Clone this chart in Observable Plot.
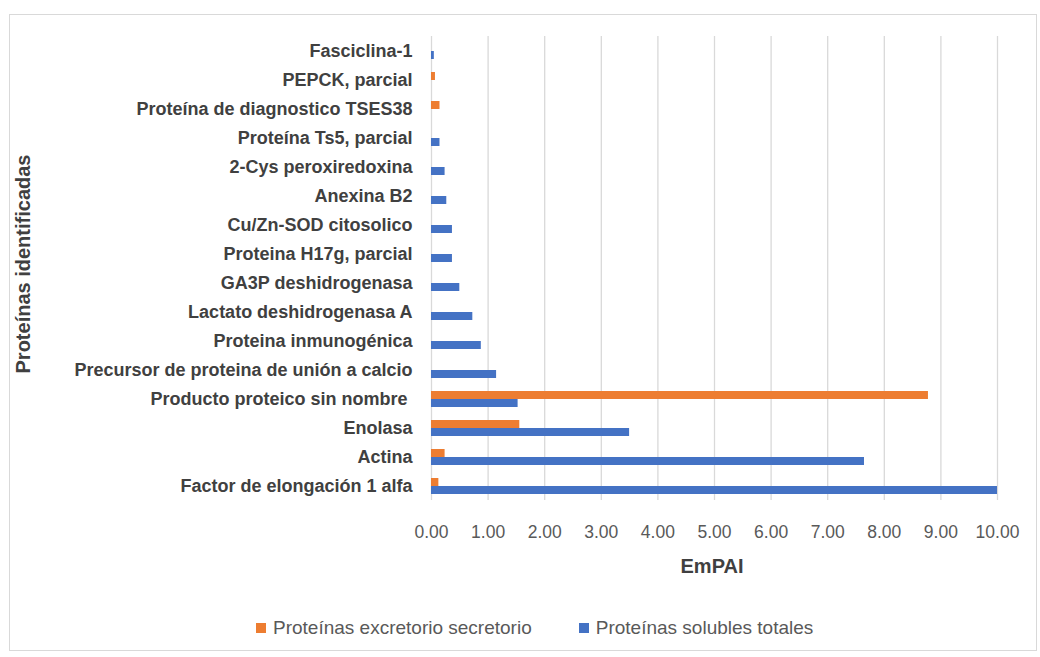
<!DOCTYPE html>
<html>
<head>
<meta charset="utf-8">
<script src="https://cdn.jsdelivr.net/npm/d3@7"></script>
<script src="https://cdn.jsdelivr.net/npm/@observablehq/plot@0.6"></script>
<style>
  body { margin: 0; background: #fff; font-family: "Liberation Sans", Arial, sans-serif; }
  #frame { position: absolute; left: 9px; top: 14px; width: 1028px; height: 637px; border: 1px solid #d9d9d9; box-sizing: border-box; }
  #chart { position: absolute; left: 0; top: 0; }
  #chart text { white-space: pre; }
  #ytitle { position: absolute; left: 23px; top: 264px; transform: translate(-50%, -50%) rotate(-90deg); font-weight: bold; font-size: 20px; color: #404040; white-space: nowrap; }
  #xtitle { position: absolute; left: 712px; top: 566px; transform: translate(-50%, -50%); font-weight: bold; font-size: 20px; color: #404040; }
  #legend { position: absolute; top: 628px; left: 256px; transform: translateY(-50%); font-size: 19px; color: #595959; display: flex; align-items: center; white-space: nowrap; }
  .sw { display: inline-block; width: 10px; height: 10px; margin-right: 7px; }
</style>
</head>
<body>
<div id="frame"></div>
<div id="chart"></div>
<div id="ytitle">Proteínas identificadas</div>
<div id="xtitle">EmPAI</div>
<div id="legend"></div>
<script>
const proteins = [
  "Fasciclina-1",
  "PEPCK, parcial",
  "Proteína de diagnostico TSES38",
  "Proteína Ts5, parcial",
  "2-Cys peroxiredoxina",
  "Anexina B2",
  "Cu/Zn-SOD citosolico",
  "Proteina H17g, parcial",
  "GA3P deshidrogenasa",
  "Lactato deshidrogenasa A",
  "Proteina inmunogénica",
  "Precursor de proteina de unión a calcio",
  "Producto proteico sin nombre ",
  "Enolasa",
  "Actina",
  "Factor de elongación 1 alfa"
];
const seriesNames = ["Proteínas excretorio secretorio", "Proteínas solubles totales"];
const seriesColors = ["#ED7D31", "#4472C4"];
const excretorio = [null, 0.07, 0.15, null, null, null, null, null, null, null, null, null, 8.78, 1.56, 0.24, 0.13];
const solubles = [0.05, null, null, 0.15, 0.24, 0.27, 0.37, 0.37, 0.50, 0.73, 0.88, 1.15, 1.53, 3.50, 7.65, 10.00];
const xTicks = [0, 1, 2, 3, 4, 5, 6, 7, 8, 9, 10];

const data = [];
proteins.forEach((p, i) => {
  if (excretorio[i] != null) data.push({protein: p, series: seriesNames[0], value: excretorio[i]});
  if (solubles[i] != null) data.push({protein: p, series: seriesNames[1], value: solubles[i]});
});

const chart = Plot.plot({
  width: 1040,
  height: 590,
  marginLeft: 431,
  marginRight: 43,
  marginTop: 32,
  marginBottom: 86,
  style: {fontFamily: '"Liberation Sans", Arial, sans-serif', background: "transparent"},
  x: {domain: [0, 10], axis: null},
  fy: {domain: proteins, padding: 0, axis: null},
  y: {domain: seriesNames, paddingInner: 0, paddingOuter: 0.65, axis: null},
  color: {domain: seriesNames, range: seriesColors},
  marks: [
    Plot.gridX(xTicks, {stroke: "#d9d9d9", strokeOpacity: 1, strokeWidth: 1.3}),
    Plot.barX(data, {fy: "protein", y: "series", x: "value", fill: "series"}),
    Plot.axisX(xTicks, {tickFormat: d3.format(".2f"), tickSize: 0, tickPadding: 25, fontSize: 17.5, fill: "#595959", label: null}),
    Plot.axisFy({anchor: "left", tickSize: 0, tickPadding: 19, fontSize: 18, fontWeight: "bold", fill: "#404040", label: null})
  ]
});
document.getElementById("chart").appendChild(chart);

const legend = document.getElementById("legend");
seriesNames.forEach((s, i) => {
  const item = document.createElement("span");
  item.style.display = "inline-flex";
  item.style.alignItems = "center";
  item.style.marginRight = i === 0 ? "47px" : "0";
  const sw = document.createElement("span");
  sw.className = "sw";
  sw.style.background = seriesColors[i];
  item.appendChild(sw);
  item.appendChild(document.createTextNode(s));
  legend.appendChild(item);
});
</script>
</body>
</html>
